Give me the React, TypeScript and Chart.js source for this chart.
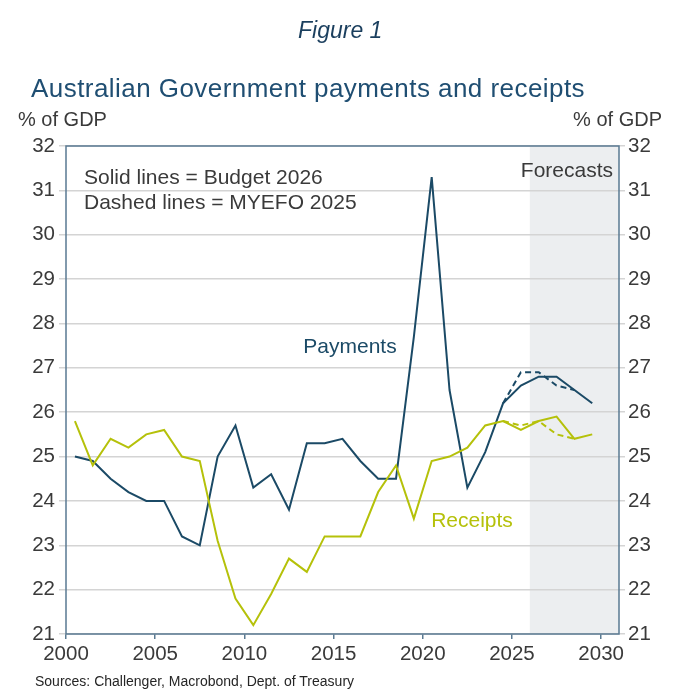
import React, { useEffect, useRef } from "react";
import { Chart, registerables } from "chart.js";

Chart.register(...registerables);

// Financial years (start year); points are plotted at the middle of each year
const fiscalYears = [
  2000, 2001, 2002, 2003, 2004, 2005, 2006, 2007, 2008, 2009,
  2010, 2011, 2012, 2013, 2014, 2015, 2016, 2017, 2018, 2019,
  2020, 2021, 2022, 2023, 2024, 2025, 2026, 2027, 2028, 2029,
];
// Budget 2026 (solid lines), % of GDP
const payments = [
  25.0, 24.9, 24.5, 24.2, 24.0, 24.0, 23.2, 23.0, 25.0, 25.7,
  24.3, 24.6, 23.8, 25.3, 25.3, 25.4, 24.9, 24.5, 24.5, 27.7,
  31.3, 26.5, 24.3, 25.1, 26.2, 26.6, 26.8, 26.8, 26.5, 26.2,
];
const receipts = [
  25.8, 24.8, 25.4, 25.2, 25.5, 25.6, 25.0, 24.9, 23.1, 21.8,
  21.2, 21.9, 22.7, 22.4, 23.2, 23.2, 23.2, 24.2, 24.8, 23.6,
  24.9, 25.0, 25.2, 25.7, 25.8, 25.6, 25.8, 25.9, 25.4, 25.5,
];
// MYEFO 2025 (dashed lines)
const myefoYears = [2024, 2025, 2026, 2027, 2028];
const myefoPayments = [26.2, 26.9, 26.9, 26.6, 26.5];
const myefoReceipts = [25.8, 25.7, 25.8, 25.5, 25.4];

const forecastStart = 2026;
const xTicks = [2000, 2005, 2010, 2015, 2020, 2025, 2030];
const yTicks = [21, 22, 23, 24, 25, 26, 27, 28, 29, 30, 31, 32];

const FONT = '"Liberation Sans", Arial, Helvetica, sans-serif';
const NAVY = "#1b4a66";
const LIME = "#b5c10a";
const AXIS = "#5a7a92";
const GRID = "#d4d4d4";
const TEXT = "#3a3a3a";
const SHADE = "#eceef0";

const pts = (xs: number[], ys: number[]) => xs.map((x, i) => ({ x: x + 0.5, y: ys[i] }));

const decor = {
  id: "decor",
  beforeDraw(chart: any) {
    const { ctx, chartArea: a, scales } = chart;
    const xs = scales.x.getPixelForValue(forecastStart);
    ctx.save();
    ctx.fillStyle = SHADE;
    ctx.fillRect(xs, a.top, a.right - xs, a.bottom - a.top);
    ctx.restore();
  },
  afterDraw(chart: any) {
    const { ctx, chartArea: a } = chart;
    ctx.save();
    ctx.strokeStyle = AXIS;
    ctx.lineWidth = 1.5;
    ctx.strokeRect(a.left, a.top, a.right - a.left, a.bottom - a.top);
    ctx.textBaseline = "middle";
    ctx.font = `21px ${FONT}`;
    ctx.fillStyle = TEXT;
    ctx.textAlign = "left";
    ctx.fillText("Solid lines = Budget 2026", 84, 178);
    ctx.fillText("Dashed lines = MYEFO 2025", 84, 203);
    ctx.textAlign = "right";
    ctx.fillText("Forecasts", 613, 171);
    ctx.textAlign = "center";
    ctx.fillStyle = NAVY;
    ctx.fillText("Payments", 350, 347);
    ctx.fillStyle = LIME;
    ctx.fillText("Receipts", 472, 521);
    ctx.restore();
  },
};

export default function App() {
  const ref = useRef<HTMLCanvasElement>(null);
  useEffect(() => {
    document.body.style.margin = "0";
    const tickFont = { size: 20.5, family: FONT };
    const setYTicks = (s: any) => {
      s.ticks = yTicks.map((v) => ({ value: v }));
    };
    const chart = new Chart(ref.current!, {
      type: "line",
      data: {
        datasets: [
          {
            data: pts(myefoYears, myefoPayments),
            borderColor: NAVY,
            borderWidth: 2,
            borderDash: [6, 4],
            pointRadius: 0,
          },
          {
            data: pts(myefoYears, myefoReceipts),
            borderColor: LIME,
            borderWidth: 2,
            borderDash: [6, 4],
            pointRadius: 0,
          },
          {
            data: pts(fiscalYears, receipts),
            borderColor: LIME,
            borderWidth: 2,
            pointRadius: 0,
          },
          {
            data: pts(fiscalYears, payments),
            borderColor: NAVY,
            borderWidth: 2,
            pointRadius: 0,
          },
        ],
      },
      options: {
        responsive: false,
        animation: false,
        layout: { padding: { top: 146, left: 10, right: 5, bottom: 23 } },
        plugins: { legend: { display: false }, tooltip: { enabled: false } },
        scales: {
          x: {
            type: "linear",
            min: 2000,
            max: 2031,
            afterBuildTicks: (s: any) => {
              s.ticks = xTicks.map((v) => ({ value: v }));
            },
            afterFit: (s: any) => {
              s.height = 40;
              s.paddingLeft = 0;
              s.paddingRight = 0;
            },
            grid: {
              display: true,
              drawOnChartArea: false,
              drawTicks: true,
              tickLength: 5,
              tickColor: AXIS,
              lineWidth: 1.5,
            },
            border: { display: false },
            ticks: {
              font: tickFont,
              color: TEXT,
              padding: 3,
              maxRotation: 0,
              autoSkip: false,
              callback: (v: any) => String(v),
            },
          },
          y: {
            position: "left",
            min: 21,
            max: 32,
            afterBuildTicks: setYTicks,
            afterFit: (s: any) => {
              s.width = 56;
              s.paddingTop = 0;
              s.paddingBottom = 0;
            },
            grid: { color: GRID, lineWidth: 1.5, drawTicks: true, tickLength: 7 },
            border: { display: false },
            ticks: { font: tickFont, color: TEXT, padding: 4, callback: (v: any) => String(v) },
          },
          y2: {
            position: "right",
            min: 21,
            max: 32,
            afterBuildTicks: setYTicks,
            afterFit: (s: any) => {
              s.width = 50;
              s.paddingTop = 0;
              s.paddingBottom = 0;
            },
            grid: { color: GRID, lineWidth: 1.5, drawOnChartArea: false, drawTicks: true, tickLength: 6 },
            border: { display: false },
            ticks: { font: tickFont, color: TEXT, padding: 3, callback: (v: any) => String(v) },
          },
        },
      },
      plugins: [decor],
    });
    return () => chart.destroy();
  }, []);

  const abs = (o: any): any => ({ position: "absolute", whiteSpace: "nowrap", lineHeight: 1, ...o });
  return (
    <div style={{ position: "relative", width: 674, height: 697, fontFamily: FONT, background: "#fff", overflow: "hidden" }}>
      <canvas ref={ref} width={674} height={697} style={{ position: "absolute", left: 0, top: 0 }} />
      <div style={abs({ left: 298, top: 19, fontSize: 23, fontStyle: "italic", color: "#1b3f5e" })}>Figure 1</div>
      <div style={abs({ left: 31, top: 75, fontSize: 26, color: "#1f4e72", letterSpacing: "0.45px" })}>
        Australian Government payments and receipts
      </div>
      <div style={abs({ left: 18, top: 109, fontSize: 20, color: TEXT })}>% of GDP</div>
      <div style={abs({ right: 12, top: 109, fontSize: 20, color: TEXT })}>% of GDP</div>
      <div style={abs({ left: 35, top: 674, fontSize: 14, color: "#262626" })}>
        Sources: Challenger, Macrobond, Dept. of Treasury
      </div>
    </div>
  );
}
